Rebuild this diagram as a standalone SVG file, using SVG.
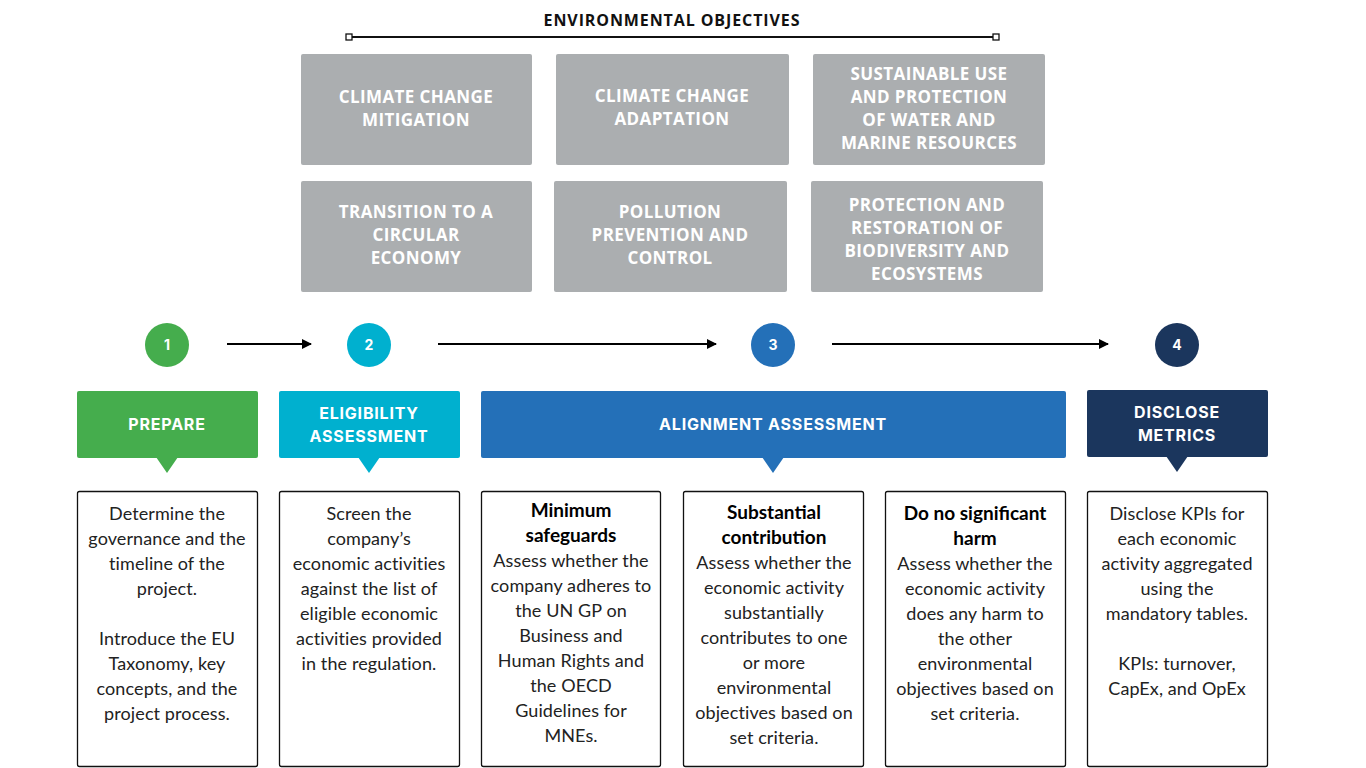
<svg xmlns="http://www.w3.org/2000/svg" width="1366" height="768" viewBox="0 0 1366 768">
<style>
.hdr{font-family:"Open Sans","Liberation Sans",sans-serif;font-weight:700;font-size:16px;fill:#111;text-anchor:middle;letter-spacing:0.9px}
.obj rect{fill:#ABAEB0}
.obj text{font-family:"Open Sans","Liberation Sans",sans-serif;font-weight:700;font-size:17px;fill:#fff;text-anchor:middle;letter-spacing:0.4px}
.num{font-family:Inter,"Liberation Sans",sans-serif;font-weight:700;font-size:14px;fill:#fff;text-anchor:middle}
.ban{font-family:Inter,"Liberation Sans",sans-serif;font-weight:700;font-size:16px;fill:#fff;text-anchor:middle;letter-spacing:0.8px}
.box rect{fill:#fff;stroke:#111;stroke-width:1.3}
.box text{font-family:Lato,"Liberation Sans",sans-serif;font-size:18px;fill:#222;text-anchor:middle;letter-spacing:0.1px}
.box text.b{font-weight:700;fill:#000;font-size:19px;letter-spacing:0}
.conn line{stroke:#000;stroke-width:2}
</style>
<defs>
<marker id="ah" viewBox="0 0 10 10" refX="9" refY="5" markerWidth="5" markerHeight="5" orient="auto" markerUnits="strokeWidth">
<path d="M0,0 L10,5 L0,10 z" fill="#000"/>
</marker>
</defs>
<rect width="1366" height="768" fill="#fff"/>

<g id="header">
<text class="hdr" x="672" y="26">ENVIRONMENTAL OBJECTIVES</text>
<line x1="349" y1="37" x2="996" y2="37" stroke="#111" stroke-width="2"/>
<rect x="346" y="34" width="6" height="6" fill="#fff" stroke="#111" stroke-width="1.3"/>
<rect x="993" y="34" width="6" height="6" fill="#fff" stroke="#111" stroke-width="1.3"/>
</g>

<g id="obj1" class="obj"><rect x="301" y="54" width="231" height="111" rx="2"/>
<text x="416" y="103">CLIMATE CHANGE</text><text x="416" y="126">MITIGATION</text></g>
<g id="obj2" class="obj"><rect x="556" y="54" width="233" height="111" rx="2"/>
<text x="672" y="102">CLIMATE CHANGE</text><text x="672" y="125">ADAPTATION</text></g>
<g id="obj3" class="obj"><rect x="813" y="54" width="232" height="111" rx="2"/>
<text x="929" y="80">SUSTAINABLE USE</text><text x="929" y="103">AND PROTECTION</text><text x="929" y="126">OF WATER AND</text><text x="929" y="149">MARINE RESOURCES</text></g>
<g id="obj4" class="obj"><rect x="301" y="181" width="231" height="111" rx="2"/>
<text x="416" y="218">TRANSITION TO A</text><text x="416" y="241">CIRCULAR</text><text x="416" y="264">ECONOMY</text></g>
<g id="obj5" class="obj"><rect x="554" y="181" width="233" height="111" rx="2"/>
<text x="670" y="218">POLLUTION</text><text x="670" y="241">PREVENTION AND</text><text x="670" y="264">CONTROL</text></g>
<g id="obj6" class="obj"><rect x="811" y="181" width="232" height="111" rx="2"/>
<text x="927" y="211">PROTECTION AND</text><text x="927" y="234">RESTORATION OF</text><text x="927" y="257">BIODIVERSITY AND</text><text x="927" y="280">ECOSYSTEMS</text></g>

<g id="step1"><circle cx="167" cy="345" r="22" fill="#45AD4D"/><text class="num" x="167" y="350">1</text></g>
<g id="step2"><circle cx="369" cy="345" r="22" fill="#00B0CF"/><text class="num" x="369" y="350">2</text></g>
<g id="step3"><circle cx="773" cy="345" r="22" fill="#2470B8"/><text class="num" x="773" y="350">3</text></g>
<g id="step4"><circle cx="1177" cy="345" r="22" fill="#1B365D"/><text class="num" x="1177" y="350">4</text></g>

<g id="connectors" class="conn">
<line x1="227" y1="344" x2="311" y2="344" marker-end="url(#ah)"/>
<line x1="438" y1="344" x2="716" y2="344" marker-end="url(#ah)"/>
<line x1="832" y1="344" x2="1108" y2="344" marker-end="url(#ah)"/>
</g>

<g id="prepare"><rect x="77" y="391" width="181" height="67" rx="2" fill="#45AD4D"/><path d="M156,457 L178,457 L167,473 z" fill="#45AD4D"/>
<text class="ban" x="167" y="430">PREPARE</text></g>
<g id="eligibility"><rect x="279" y="391" width="181" height="67" rx="2" fill="#00B0CF"/><path d="M358,457 L380,457 L369,473 z" fill="#00B0CF"/>
<text class="ban" x="369" y="419">ELIGIBILITY</text><text class="ban" x="369" y="442">ASSESSMENT</text></g>
<g id="alignment"><rect x="481" y="391" width="585" height="67" rx="2" fill="#2470B8"/><path d="M762,457 L784,457 L773,473 z" fill="#2470B8"/>
<text class="ban" x="773" y="430">ALIGNMENT ASSESSMENT</text></g>
<g id="disclose"><rect x="1087" y="390" width="181" height="67" rx="2" fill="#1B365D"/><path d="M1166,456 L1188,456 L1177,472 z" fill="#1B365D"/>
<text class="ban" x="1177" y="418">DISCLOSE</text><text class="ban" x="1177" y="441">METRICS</text></g>

<g id="box1" class="box"><rect x="77.5" y="491.5" width="180" height="275" rx="2"/>
<text x="167" y="520">Determine the</text><text x="167" y="545">governance and the</text><text x="167" y="570">timeline of the</text><text x="167" y="595">project.</text>
<text x="167" y="645">Introduce the EU</text><text x="167" y="670">Taxonomy, key</text><text x="167" y="695">concepts, and the</text><text x="167" y="720">project process.</text></g>
<g id="box2" class="box"><rect x="279.5" y="491.5" width="180" height="275" rx="2"/>
<text x="369" y="520">Screen the</text><text x="369" y="545">company’s</text><text x="369" y="570">economic activities</text><text x="369" y="595">against the list of</text><text x="369" y="620">eligible economic</text><text x="369" y="645">activities provided</text><text x="369" y="670">in the regulation.</text></g>
<g id="box3" class="box"><rect x="481.5" y="491.5" width="179" height="275" rx="2"/>
<text class="b" x="571" y="517">Minimum</text><text class="b" x="571" y="542">safeguards</text>
<text x="571" y="567">Assess whether the</text><text x="571" y="592">company adheres to</text><text x="571" y="617">the UN GP on</text><text x="571" y="642">Business and</text><text x="571" y="667">Human Rights and</text><text x="571" y="692">the OECD</text><text x="571" y="717">Guidelines for</text><text x="571" y="742">MNEs.</text></g>
<g id="box4" class="box"><rect x="683.5" y="491.5" width="180" height="275" rx="2"/>
<text class="b" x="774" y="519">Substantial</text><text class="b" x="774" y="544">contribution</text>
<text x="774" y="569">Assess whether the</text><text x="774" y="594">economic activity</text><text x="774" y="619">substantially</text><text x="774" y="644">contributes to one</text><text x="774" y="669">or more</text><text x="774" y="694">environmental</text><text x="774" y="719">objectives based on</text><text x="774" y="744">set criteria.</text></g>
<g id="box5" class="box"><rect x="885.5" y="491.5" width="180" height="275" rx="2"/>
<text class="b" x="975" y="520">Do no significant</text><text class="b" x="975" y="545">harm</text>
<text x="975" y="570">Assess whether the</text><text x="975" y="595">economic activity</text><text x="975" y="620">does any harm to</text><text x="975" y="645">the other</text><text x="975" y="670">environmental</text><text x="975" y="695">objectives based on</text><text x="975" y="720">set criteria.</text></g>
<g id="box6" class="box"><rect x="1087.5" y="491.5" width="180" height="275" rx="2"/>
<text x="1177" y="520">Disclose KPIs for</text><text x="1177" y="545">each economic</text><text x="1177" y="570">activity aggregated</text><text x="1177" y="595">using the</text><text x="1177" y="620">mandatory tables.</text>
<text x="1177" y="670">KPIs: turnover,</text><text x="1177" y="695">CapEx, and OpEx</text></g>
</svg>
